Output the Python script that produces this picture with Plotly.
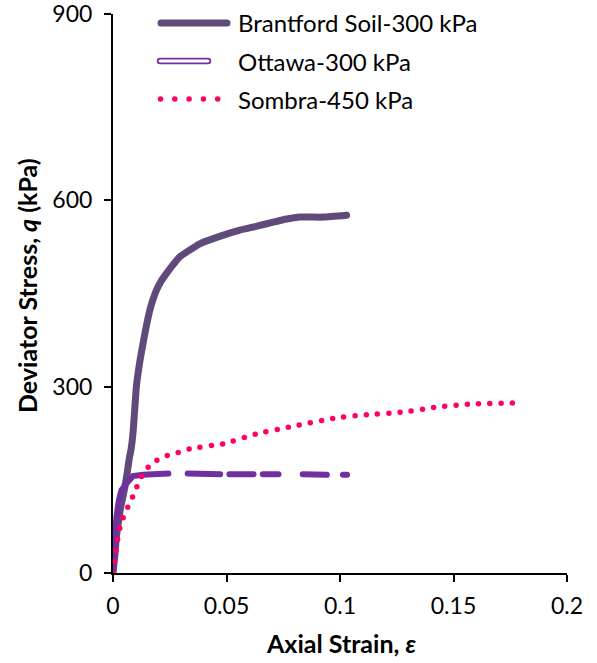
import plotly.graph_objects as go

# ---- data ----
brant_strain = [0, 0.0008, 0.0015, 0.0025, 0.0035, 0.0045, 0.0052, 0.0062, 0.0072, 0.008, 0.0088,
                0.0096, 0.0103, 0.0118, 0.0132, 0.0147, 0.0162, 0.0176, 0.0191, 0.0212, 0.0235,
                0.0264, 0.0294, 0.0338, 0.0382, 0.047, 0.0559, 0.063, 0.0706, 0.0765, 0.0823,
                0.0926, 0.1029]
brant_q = [0, 28, 58, 85, 108, 125, 138, 160, 185, 200, 225,
           265, 300, 340, 369, 398, 423, 440, 455, 470, 482,
           496, 509, 520, 530, 542, 552, 558, 565, 570, 573,
           573, 576]

ottawa_strain = [0, 0.0005, 0.0015, 0.0025, 0.0037, 0.0059, 0.0088, 0.0132, 0.02, 0.0244, None,
                 0.0329, 0.04, 0.0472, None,
                 0.0513, 0.0619, None,
                 0.066, 0.0729, None,
                 0.0836, 0.0942, None,
                 0.1013, 0.1031]
ottawa_q = [0, 40, 90, 115, 133, 144, 156, 158, 160, 160, None,
            160, 160, 159, None,
            159, 159, None,
            159, 159, None,
            159, 158, None,
            158, 158]

sombra_strain = [0, 0.0004, 0.0008, 0.0015, 0.0025, 0.0037, 0.0059, 0.0081, 0.0103, 0.0125,
                 0.0154, 0.0191, 0.0238, 0.0287, 0.0338, 0.0485, 0.0632, 0.0779, 0.097,
                 0.1122, 0.1276, 0.1426, 0.158, 0.1787]
sombra_q = [0, 10, 20, 42, 64, 82, 101, 118, 137, 155,
            170, 181, 189, 194, 200, 208, 224, 235, 249,
            255, 259, 267, 272, 274]

series_names = ["Brantford Soil-300 kPa", "Ottawa-300 kPa", "Sombra-450 kPa"]
x_ticks = [0, 0.05, 0.1, 0.15, 0.2]
x_tick_labels = ["0", "0.05", "0.1", "0.15", "0.2"]
y_ticks = [0, 300, 600, 900]

FONT = "Lato"
C_BRANT = "#604A7B"
C_OTT = "#7030A0"
C_SOM = "#FF0066"

W, H = 597, 663
ML, MR, MT, MB = 113, 30, 14, 90
PW = W - ML - MR
PH = H - MT - MB

def px(x):
    return (x - ML) / PW

def py(y):
    return (H - MB - y) / PH

fig = go.Figure()
fig.add_trace(go.Scatter(x=brant_strain, y=brant_q, mode="lines", name=series_names[0],
                         line=dict(color=C_BRANT, width=7, shape="spline", smoothing=0.5)))
fig.add_trace(go.Scatter(x=ottawa_strain, y=ottawa_q, mode="lines", name=series_names[1],
                         line=dict(color=C_OTT, width=6), connectgaps=False))
fig.add_trace(go.Scatter(x=sombra_strain, y=sombra_q, mode="lines", name=series_names[2],
                         line=dict(color=C_SOM, width=5.5, dash="0px,11.3px", shape="spline", smoothing=0.5)))

# manual legend
shapes = []
annotations = []
leg_y = [23, 61, 99]
shapes.append(dict(type="line", xref="paper", yref="paper", x0=px(161), x1=px(227), y0=py(23), y1=py(23),
                   line=dict(color=C_BRANT, width=7)))
shapes.append(dict(type="line", xref="paper", yref="paper", x0=px(160), x1=px(208), y0=py(61), y1=py(61),
                   line=dict(color=C_OTT, width=6.5)))
shapes.append(dict(type="line", xref="paper", yref="paper", x0=px(160), x1=px(208), y0=py(61), y1=py(61),
                   line=dict(color="white", width=3)))
shapes.append(dict(type="line", xref="paper", yref="paper", x0=px(160.5), x1=px(218), y0=py(99), y1=py(99),
                   line=dict(color=C_SOM, width=5.5, dash="0px,14.3px")))
for name, yy in zip(series_names, leg_y):
    annotations.append(dict(text=name, xref="paper", yref="paper", x=px(236), y=py(yy),
                            xanchor="left", yanchor="middle", showarrow=False,
                            font=dict(family=FONT, size=24, color="black")))

# axis titles as annotations at fixed positions
annotations.append(dict(text="<b>Axial Strain, <i>ε</i></b>", xref="paper", yref="paper",
                        x=px(341), y=py(643), xanchor="center", yanchor="middle", showarrow=False,
                        font=dict(family=FONT, size=25, color="black")))
annotations.append(dict(text="<b>Deviator Stress, <i>q</i> (kPa)</b>", xref="paper", yref="paper",
                        x=px(27), y=py(286), xanchor="center", yanchor="middle", showarrow=False,
                        textangle=-90, font=dict(family=FONT, size=25, color="black")))

fig.update_layout(
    width=W, height=H,
    margin=dict(l=ML, r=MR, t=MT, b=MB, autoexpand=False),
    plot_bgcolor="white", paper_bgcolor="white",
    showlegend=False,
    shapes=shapes, annotations=annotations,
    font=dict(family=FONT, size=22, color="black"),
    xaxis=dict(range=[0, 0.2], tickvals=x_ticks, ticktext=x_tick_labels, showgrid=False, zeroline=False,
               showline=True, linecolor="black", linewidth=2, ticks="outside", ticklen=7,
               tickwidth=2, tickcolor="black", tickfont=dict(family=FONT, size=23, color="black"),
               ticklabelstandoff=4, ticklabeloverflow="allow", automargin=False),
    yaxis=dict(range=[0, 900], tickvals=y_ticks, showgrid=False, zeroline=False,
               showline=True, linecolor="black", linewidth=2, ticks="outside", ticklen=7,
               tickwidth=2, tickcolor="black", tickfont=dict(family=FONT, size=23, color="black"),
               ticklabelstandoff=7, ticklabeloverflow="allow", automargin=False),
)

post = """
document.querySelectorAll('.js-line, .shapelayer path').forEach(function(e){e.style.strokeLinecap='round';});
"""
fig.write_html("out.html", post_script=post)
